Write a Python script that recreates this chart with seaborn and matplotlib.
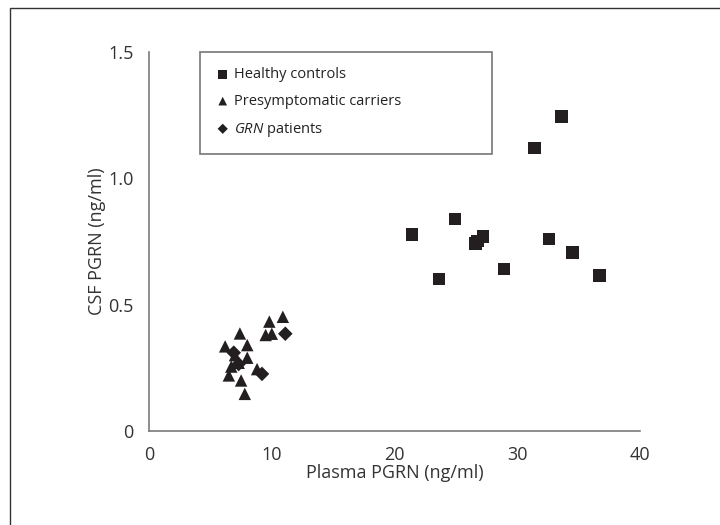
import pandas as pd
import matplotlib
matplotlib.use('Agg')
import matplotlib.pyplot as plt
from matplotlib.patches import Rectangle
import seaborn as sns

# Данные
healthy_x = [21.4, 23.6, 24.9, 26.6, 26.75, 27.2, 28.9, 31.4, 32.6, 33.6, 34.5, 36.7]
healthy_y = [0.778, 0.601, 0.839, 0.742, 0.752, 0.769, 0.641, 1.119, 0.760, 1.244, 0.707, 0.616]

carrier_x = [6.2, 6.5, 6.7, 7.0, 7.3, 7.4, 7.5, 7.8, 8.0, 8.0, 8.8, 9.5, 9.8, 10.0, 10.9]
carrier_y = [0.335, 0.220, 0.255, 0.300, 0.270, 0.386, 0.200, 0.147, 0.340, 0.290, 0.245, 0.380, 0.433, 0.385, 0.452]

patient_x = [11.1, 9.2, 7.3, 6.9]
patient_y = [0.385, 0.226, 0.265, 0.310]

groups = ['Healthy controls', 'Presymptomatic carriers', 'GRN patients']

data = pd.DataFrame({
    'plasma': healthy_x + carrier_x + patient_x,
    'csf': healthy_y + carrier_y + patient_y,
    'group': [groups[0]] * len(healthy_x) + [groups[1]] * len(carrier_x) + [groups[2]] * len(patient_x),
})

sns.set_style('white')
plt.rcParams['font.family'] = ['Open Sans', 'DejaVu Sans']
plt.rcParams['mathtext.fontset'] = 'custom'
plt.rcParams['mathtext.it'] = 'Open Sans:italic'
plt.rcParams['mathtext.rm'] = 'Open Sans'

ink = '#231f20'
axis_grey = '#7a7a7a'

fig = plt.figure(figsize=(7.2, 5.25), dpi=100)
ax = fig.add_axes([0.207, 0.179, 0.682, 0.722])

# Рамка вокруг рисунка (открыта справа и снизу)
fig.patches.append(Rectangle((10 / 720, -0.05), 1.1, 1 - 8 / 525 + 0.05, transform=fig.transFigure,
                             fill=False, edgecolor='#333333', linewidth=1.0))

sizes = {groups[0]: 80, groups[1]: 80, groups[2]: 55}
markers = {groups[0]: 's', groups[1]: '^', groups[2]: 'D'}
for g in groups:
    sub = data[data['group'] == g]
    sns.scatterplot(data=sub, x='plasma', y='csf', marker=markers[g], s=sizes[g],
                    color=ink, edgecolor='none', linewidth=0, ax=ax, label=g)

ax.set_xlim(0, 40)
ax.set_ylim(0, 1.5)
ax.set_xticks([0, 10, 20, 30, 40])
ax.set_xticklabels(['0', '10', '20', '30', '40'])
ax.set_yticks([0, 0.5, 1.0, 1.5])
ax.set_yticklabels(['0', '0.5', '1.0', '1.5'])

for side in ['top', 'right']:
    ax.spines[side].set_visible(False)
for side in ['left', 'bottom']:
    ax.spines[side].set_color(axis_grey)
    ax.spines[side].set_linewidth(1.2)
ax.tick_params(axis='both', direction='out', length=6, width=1.2, color=axis_grey,
               labelsize=13, labelcolor='#333333', pad=5)

ax.set_xlabel('Plasma PGRN (ng/ml)', fontsize=13, color='#333333', labelpad=0)
ax.set_ylabel('CSF PGRN (ng/ml)', fontsize=13, color='#333333', labelpad=2)

handles, labels = ax.get_legend_handles_labels()
labels = ['Healthy controls', 'Presymptomatic carriers', r'$\mathit{GRN}$ patients']
leg = ax.legend(handles, labels, loc='upper left', bbox_to_anchor=(0.104, 0.733, 0.595, 0.267),
                mode='expand', borderaxespad=0, frameon=True, fancybox=False, fontsize=10.5,
                handletextpad=0.3, handlelength=1.0, labelspacing=0.8, borderpad=1.05,
                markerscale=0.7, labelcolor='#222222')
leg.get_frame().set_edgecolor('#555555')
leg.get_frame().set_linewidth(1.2)

plt.savefig('out.png', dpi=100)
